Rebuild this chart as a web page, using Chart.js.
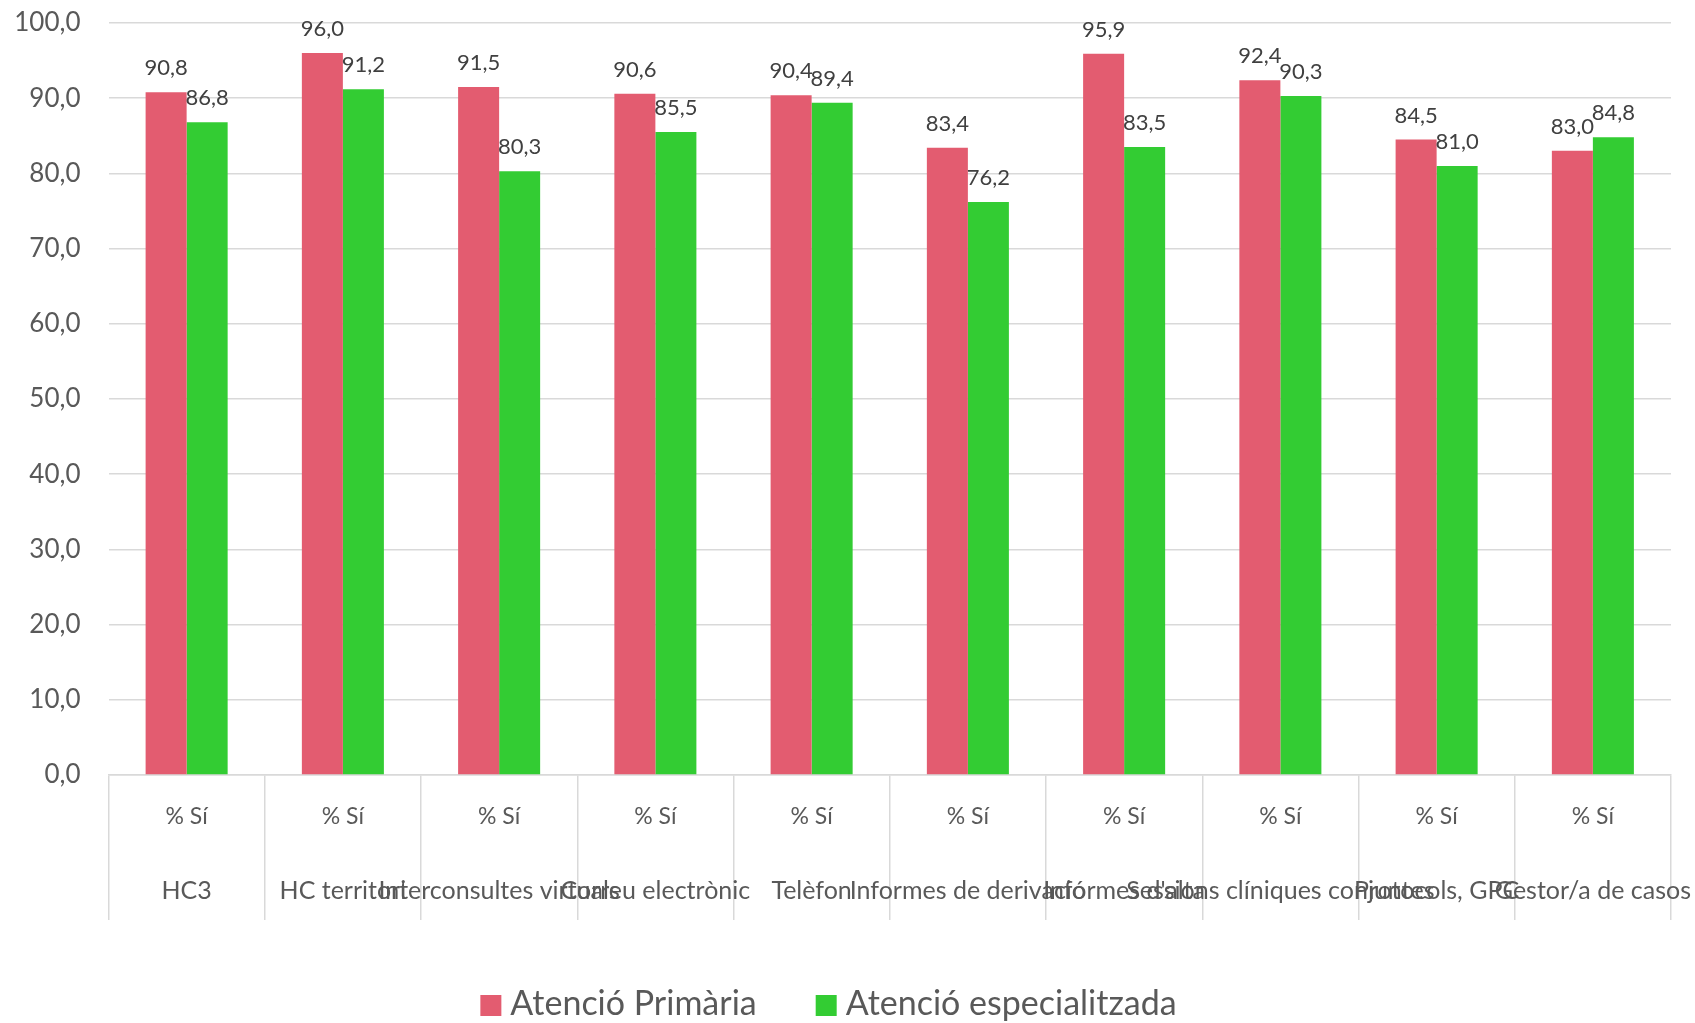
<!DOCTYPE html>
<html lang="ca">
<head>
<meta charset="utf-8">
<title>Atenció Primària i Atenció especialitzada — % Sí</title>
<script src="https://cdn.jsdelivr.net/npm/chart.js@4.4.1/dist/chart.umd.min.js"></script>
<style>
  html, body { margin: 0; padding: 0; background: #ffffff; }
  #wrap { width: 1695px; height: 1023px; }
</style>
</head>
<body>
<div id="wrap"><canvas id="chart" width="1695" height="1023"></canvas></div>
<script>
// Categories and the sub-label shown above each category name
const categories = [
  'HC3',
  'HC territori',
  'Interconsultes virtuals',
  'Correu electrònic',
  'Telèfon',
  'Informes de derivació',
  "Informes d'alta",
  'Sessions clíniques conjuntes',
  'Protocols, GPC',
  'Gestor/a de casos'
];
const subLabel = '% Sí';

// Series values (%)
const primaria       = [90.8, 96.0, 91.5, 90.6, 90.4, 83.4, 95.9, 92.4, 84.5, 83.0];
const especialitzada = [86.8, 91.2, 80.3, 85.5, 89.4, 76.2, 83.5, 90.3, 81.0, 84.8];

const seriesNames = ['Atenció Primària', 'Atenció especialitzada'];

// Value axis
const yMin = 0, yMax = 100, yStep = 10;

const TEXT = '#595959';
const GRID = '#D9D9D9';
const FONT = 'Lato';

const fmt = v => v.toFixed(1).replace('.', ',');

// Value labels above each bar
const barValueLabels = {
  id: 'barValueLabels',
  afterDatasetsDraw(chart) {
    const ctx = chart.ctx;
    ctx.save();
    ctx.font = `22px ${FONT}`;
    ctx.fillStyle = '#404040';
    ctx.textAlign = 'center';
    ctx.textBaseline = 'alphabetic';
    chart.data.datasets.forEach((ds, di) => {
      const meta = chart.getDatasetMeta(di);
      meta.data.forEach((bar, i) => {
        ctx.fillText(fmt(ds.data[i]), bar.x, bar.y - 17);
      });
    });
    ctx.restore();
  }
};

// Two-level category labels under the axis
const categoryRows = {
  id: 'categoryRows',
  afterDraw(chart) {
    const xs = chart.scales.x;
    const ctx = chart.ctx;
    ctx.save();
    ctx.fillStyle = TEXT;
    ctx.textAlign = 'center';
    ctx.textBaseline = 'middle';
    categories.forEach((name, i) => {
      const x = xs.getPixelForValue(i);
      ctx.font = `23px ${FONT}`;
      ctx.fillText(subLabel, x, xs.top + 42);
      ctx.font = `25px ${FONT}`;
      ctx.fillText(name, x, xs.top + 116);
    });
    ctx.restore();
  }
};

// Legend row along the bottom edge: square swatch + series name
const bottomLegend = {
  id: 'bottomLegend',
  afterDraw(chart) {
    const ctx = chart.ctx;
    const box = 21, gapText = 9, gapItem = 59;
    ctx.save();
    ctx.font = `34px ${FONT}`;
    const items = chart.data.datasets.map(ds => ({
      text: ds.label,
      color: ds.backgroundColor,
      w: box + gapText + ctx.measureText(ds.label).width
    }));
    const total = items.reduce((s, it) => s + it.w, 0) + gapItem * (items.length - 1);
    let x = chart.width / 2 - 19 - total / 2;
    const baseline = chart.height - 8;
    ctx.textAlign = 'left';
    ctx.textBaseline = 'alphabetic';
    items.forEach(it => {
      ctx.fillStyle = it.color;
      ctx.fillRect(x, baseline - 20, box, box);
      ctx.fillStyle = TEXT;
      ctx.fillText(it.text, x + box + gapText, baseline);
      x += it.w + gapItem;
    });
    ctx.restore();
  }
};

new Chart(document.getElementById('chart'), {
  type: 'bar',
  data: {
    labels: categories,
    datasets: [
      { label: seriesNames[0], data: primaria, backgroundColor: '#E35C70', borderWidth: 0 },
      { label: seriesNames[1], data: especialitzada, backgroundColor: '#33CC33', borderWidth: 0 }
    ]
  },
  options: {
    responsive: false,
    animation: false,
    devicePixelRatio: 1,
    layout: { padding: { top: 23, right: 24, left: 0, bottom: 0 } },
    datasets: { bar: { categoryPercentage: 0.525, barPercentage: 1.0 } },
    plugins: {
      legend: { display: false },
      tooltip: { enabled: false }
    },
    scales: {
      x: {
        type: 'category',
        ticks: { display: false },
        grid: {
          display: true,
          offset: true,
          drawOnChartArea: false,
          drawTicks: true,
          tickLength: 145,
          color: GRID,
          lineWidth: 1.5
        },
        border: { display: true, color: GRID, width: 1.5 },
        afterFit(scale) { scale.height = 1023 - 775; }
      },
      y: {
        min: yMin,
        max: yMax,
        ticks: {
          stepSize: yStep,
          padding: 28,
          color: TEXT,
          font: { family: FONT, size: 26 },
          callback: v => fmt(v)
        },
        grid: { color: GRID, lineWidth: 1.5, drawTicks: false },
        border: { display: false },
        afterFit(scale) {
          scale.width = 108.5;
          // the tick padding only offsets labels horizontally here
          scale.paddingTop = 0;
          scale.paddingBottom = 0;
        }
      }
    }
  },
  plugins: [barValueLabels, categoryRows, bottomLegend]
});
</script>
</body>
</html>
